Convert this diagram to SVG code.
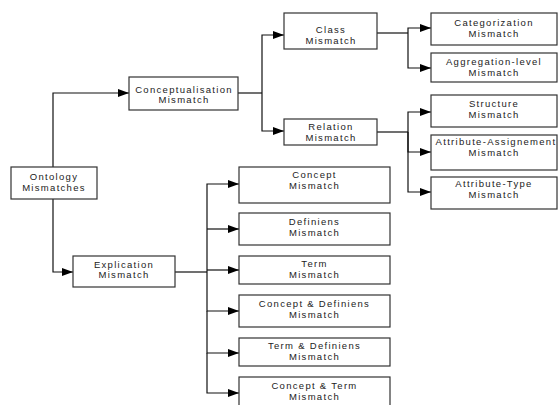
<svg xmlns="http://www.w3.org/2000/svg" width="558" height="405" viewBox="0 0 558 405">
<defs>
<marker id="ah" markerUnits="userSpaceOnUse" markerWidth="12" markerHeight="10" refX="11" refY="4" orient="auto">
<path d="M0,0 L11,4 L0,8 Z" fill="#000"/>
</marker>
<style>
.b{fill:#fff;stroke:#333;stroke-width:1.2}
.t{font-family:"Liberation Sans",Arial,sans-serif;font-size:9.5px;letter-spacing:1.3px;fill:#222;text-anchor:middle}
.c{fill:none;stroke:#111;stroke-width:1.2}
.a{marker-end:url(#ah)}
</style>
</defs>
<rect width="558" height="405" fill="#fff"/>
<g id="connectors">
<path class="c a" d="M53,167 V93 H129"/>
<path class="c a" d="M53,199 V272 H73"/>
<path class="c" d="M238,93 H262"/>
<path class="c a" d="M262,93 V35 H284"/>
<path class="c a" d="M262,93 V131 H284"/>
<path class="c" d="M377,33 H408"/>
<path class="c a" d="M408,33 V28 H431"/>
<path class="c a" d="M408,33 V68 H431"/>
<path class="c" d="M377,132 H408"/>
<path class="c a" d="M408,132 V112 H431"/>
<path class="c a" d="M408,132 V152 H431"/>
<path class="c a" d="M408,132 V192 H431"/>
<path class="c" d="M175,272 H207" stroke-width="1.8"/>
<path class="c a" d="M207,272 V184 H239"/>
<path class="c a" d="M207,229 H239"/>
<path class="c a" d="M207,270 H239"/>
<path class="c a" d="M207,272 V311 H239"/>
<path class="c a" d="M207,311 V353 H239"/>
<path class="c a" d="M207,353 V393 H239"/>
</g>
<g id="ontology"><rect class="b" x="11" y="167" width="86" height="32"/><text class="t" x="54" y="179.5">Ontology</text><text class="t" x="54" y="190.5">Mismatches</text></g>
<g id="conceptualisation"><rect class="b" x="129" y="77" width="109" height="33"/><text class="t" x="184" y="92.5">Conceptualisation</text><text class="t" x="184" y="103">Mismatch</text></g>
<g id="class"><rect class="b" x="284" y="13" width="93" height="36"/><text class="t" x="331" y="33">Class</text><text class="t" x="331" y="44">Mismatch</text></g>
<g id="relation"><rect class="b" x="284" y="119" width="93" height="26"/><text class="t" x="331" y="130">Relation</text><text class="t" x="331" y="141">Mismatch</text></g>
<g id="categorization"><rect class="b" x="431" y="13" width="126" height="32"/><text class="t" x="494" y="26">Categorization</text><text class="t" x="494" y="37">Mismatch</text></g>
<g id="aggregation"><rect class="b" x="431" y="53" width="126" height="29"/><text class="t" x="494" y="65">Aggregation-level</text><text class="t" x="494" y="76">Mismatch</text></g>
<g id="structure"><rect class="b" x="431" y="95" width="126" height="32"/><text class="t" x="494" y="107">Structure</text><text class="t" x="494" y="118">Mismatch</text></g>
<g id="attr-assign"><rect class="b" x="431" y="135" width="126" height="35"/><text class="t" x="496" y="145">Attribute-Assignement</text><text class="t" x="494" y="156">Mismatch</text></g>
<g id="attr-type"><rect class="b" x="431" y="177" width="126" height="32"/><text class="t" x="494" y="187">Attribute-Type</text><text class="t" x="494" y="198">Mismatch</text></g>
<g id="explication"><rect class="b" x="73" y="256" width="102" height="31"/><text class="t" x="124" y="268">Explication</text><text class="t" x="124" y="278">Mismatch</text></g>
<g id="concept"><rect class="b" x="239" y="167" width="151" height="36"/><text class="t" x="314.5" y="178">Concept</text><text class="t" x="314.5" y="189">Mismatch</text></g>
<g id="definiens"><rect class="b" x="239" y="213" width="151" height="32"/><text class="t" x="314.5" y="225">Definiens</text><text class="t" x="314.5" y="236">Mismatch</text></g>
<g id="term"><rect class="b" x="239" y="256" width="151" height="28"/><text class="t" x="314.5" y="267">Term</text><text class="t" x="314.5" y="278">Mismatch</text></g>
<g id="concept-definiens"><rect class="b" x="239" y="295" width="151" height="32"/><text class="t" x="314.5" y="307">Concept &amp; Definiens</text><text class="t" x="314.5" y="318">Mismatch</text></g>
<g id="term-definiens"><rect class="b" x="239" y="338" width="151" height="28"/><text class="t" x="314.5" y="349">Term &amp; Definiens</text><text class="t" x="314.5" y="360">Mismatch</text></g>
<g id="concept-term"><rect class="b" x="239" y="377" width="151" height="40"/><text class="t" x="314.5" y="389">Concept &amp; Term</text><text class="t" x="314.5" y="400">Mismatch</text></g>
</svg>
